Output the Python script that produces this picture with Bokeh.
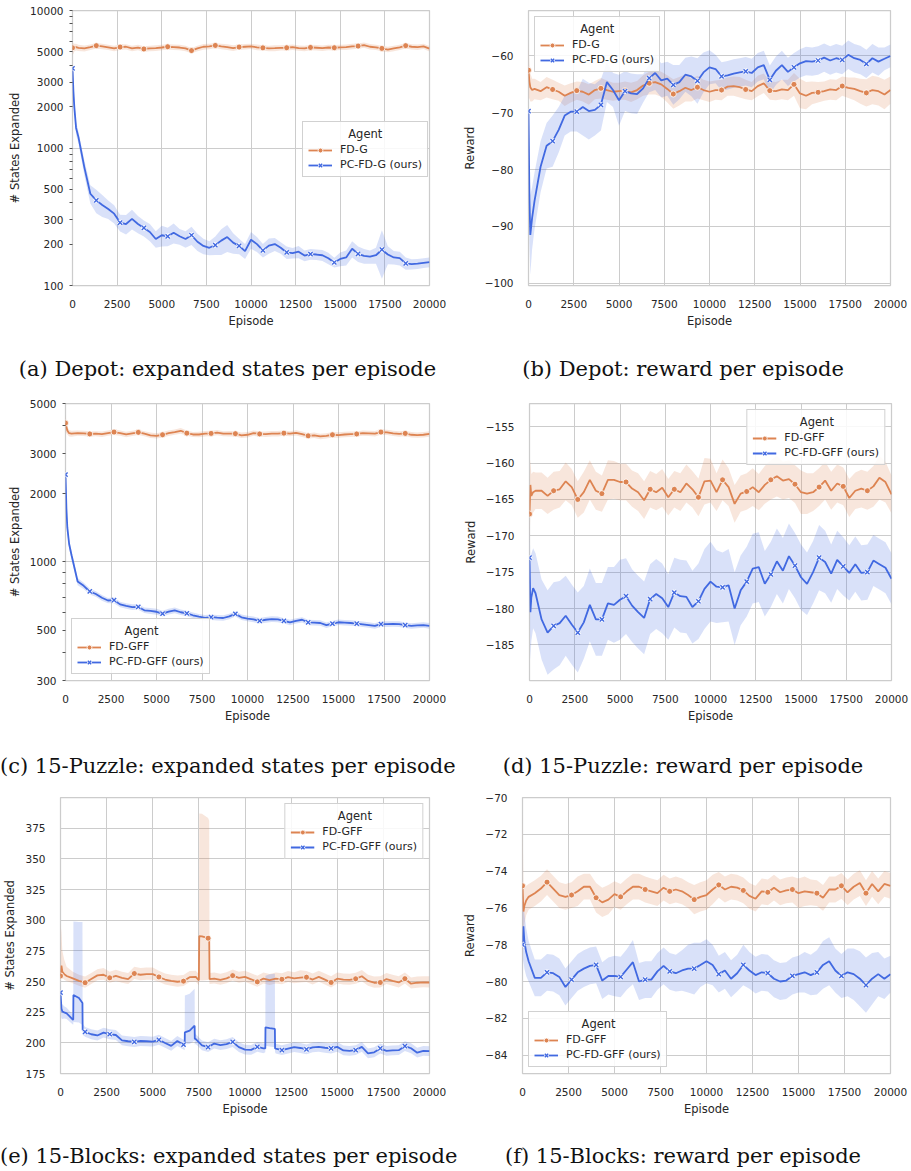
import numpy as np
from bokeh.plotting import figure
from bokeh.models import Range1d, FixedTicker, CustomJSTickFormatter, Legend, LegendItem, Div
from bokeh.layouts import column, row
from bokeh.embed import file_html
from bokeh.resources import INLINE

ORANGE = "#dd8452"
BLUE = "#4169e1"
TXT = "#262626"
GRID = "#cccccc"

EPISODE = [0, 50, 100, 200,
           333, 667, 1000, 1333, 1667, 2000, 2333, 2667, 3000, 3333,
           3667, 4000, 4333, 4667, 5000, 5333, 5667, 6000, 6333, 6667,
           7000, 7333, 7667, 8000, 8333, 8667, 9000, 9333, 9667, 10000,
           10333, 10667, 11000, 11333, 11667, 12000, 12333, 12667, 13000, 13333,
           13667, 14000, 14333, 14667, 15000, 15333, 15667, 16000, 16333, 16667,
           17000, 17333, 17667, 18000, 18333, 18667, 19000, 19333, 19667, 20000]
X_TICKS = [0, 2500, 5000, 7500, 10000, 12500, 15000, 17500, 20000]

# ---------------- (a) Depot: expanded states ----------------
A_FD = [5350, 5300, 5380, 5420,
        5350, 5300, 5420, 5550, 5480, 5400, 5300, 5420, 5450, 5300,
        5380, 5250, 5300, 5330, 5380, 5450, 5420, 5380, 5300, 5110,
        5300, 5450, 5480, 5570, 5480, 5420, 5330, 5420, 5450, 5480,
        5400, 5350, 5300, 5320, 5350, 5360, 5420, 5330, 5300, 5390,
        5360, 5320, 5380, 5360, 5400, 5420, 5480, 5510, 5600, 5450,
        5400, 5300, 5200, 5300, 5400, 5550, 5450, 5420, 5480, 5280]
A_FD_CI = [600, 450, 350, 300,
           280, 260, 250, 260, 250, 240, 250, 260, 240, 250,
           250, 240, 250, 260, 250, 240, 250, 250, 240, 230,
           250, 260, 250, 240, 250, 260, 250, 240, 250, 240,
           250, 240, 250, 260, 240, 240, 250, 240, 250, 240,
           250, 240, 250, 250, 240, 250, 260, 250, 240, 250,
           240, 250, 240, 250, 240, 250, 240, 250, 240, 250]
A_PC = [3800, 2600, 2000, 1400,
        1200, 720, 465, 416, 385, 360, 333, 287, 280, 305,
        280, 262, 245, 218, 232, 228, 242, 228, 218, 232,
        208, 194, 188, 197, 212, 225, 205, 194, 178, 215,
        200, 180, 195, 200, 188, 174, 172, 176, 165, 169,
        168, 166, 158, 147, 156, 160, 185, 170, 164, 162,
        166, 182, 168, 160, 158, 145, 143, 144, 146, 148]
A_PC_CI = [400, 300, 200, 150,
           120, 90, 70, 80, 70, 55, 50, 40, 45, 50,
           40, 35, 35, 30, 40, 35, 40, 30, 30, 35,
           30, 25, 22, 30, 45, 50, 35, 25, 22, 30,
           25, 20, 25, 22, 18, 18, 15, 18, 15, 15,
           15, 15, 15, 12, 18, 20, 25, 22, 20, 18,
           22, 70, 25, 18, 18, 15, 12, 12, 12, 12]

# ---------------- (b) Depot: reward ----------------
B_FD = [-62.5, -64.5, -65.5, -66.0,
        -65.8, -66.2, -65.5, -65.9, -66.3, -67.0, -66.5, -66.1, -66.3, -66.8,
        -66.0, -65.7, -66.0, -66.3, -66.2, -66.1, -66.4, -66.0, -65.2, -64.8,
        -64.6, -65.0, -65.8, -66.7, -66.2, -65.6, -66.0, -65.5, -66.0, -66.3,
        -66.0, -66.0, -65.4, -65.3, -65.5, -65.9, -66.2, -65.3, -64.8, -66.1,
        -66.2, -65.9, -66.0, -65.0, -66.6, -67.0, -66.5, -66.4, -66.2, -65.9,
        -66.0, -65.3, -65.6, -65.8, -66.2, -66.5, -66.0, -66.2, -66.8, -66.0]
B_FD_CI = [5.0, 3.0, 2.5, 2.0,
           1.8, 1.6, 1.8, 1.7, 1.6, 1.8, 1.7, 1.6, 1.7, 1.8,
           1.6, 1.8, 1.7, 1.6, 1.5, 1.6, 1.7, 1.6, 1.8, 2.0,
           2.2, 2.2, 2.4, 2.6, 2.5, 2.4, 2.0, 2.0, 1.8, 1.8,
           1.7, 1.8, 1.6, 1.7, 1.8, 1.7, 1.6, 1.8, 1.7, 1.6,
           1.6, 1.7, 1.8, 2.0, 2.6, 2.4, 2.0, 1.8, 1.7, 1.8,
           1.8, 1.7, 1.8, 2.0, 2.2, 2.4, 2.5, 2.5, 2.6, 2.4]
B_PC = [-69.7, -85.0, -91.5, -88.5,
        -85.5, -79.5, -75.8, -75.0, -73.0, -70.5, -69.8, -69.8, -69.0, -69.7,
        -69.5, -68.6, -64.6, -66.0, -67.8, -66.2, -66.6, -66.7, -65.7, -63.9,
        -63.0, -64.3, -64.0, -65.1, -64.6, -63.3, -63.6, -64.4, -62.9, -62.0,
        -62.3, -63.6, -63.4, -63.1, -62.9, -62.7, -63.0, -62.0, -61.6, -64.2,
        -62.6, -61.6, -62.8, -62.0, -61.3, -60.9, -61.0, -60.8, -60.3, -60.8,
        -60.4, -60.7, -59.8, -60.4, -60.7, -61.4, -60.4, -61.0, -60.5, -60.0]
B_PC_CI = [2.0, 8.0, 7.0, 5.5,
           5.0, 4.5, 4.0, 4.5, 4.0, 3.5, 3.5, 3.5, 5.0, 5.0,
           4.5, 4.5, 3.5, 3.0, 4.5, 3.5, 3.5, 3.5, 2.5, 2.5,
           3.0, 3.0, 3.0, 3.5, 3.0, 3.0, 3.5, 4.0, 3.5, 3.0,
           2.5, 2.5, 2.5, 2.5, 2.5, 2.5, 2.5, 2.5, 2.5, 2.5,
           2.5, 2.5, 2.5, 2.5, 2.5, 2.5, 2.5, 2.5, 2.5, 2.5,
           2.5, 2.5, 2.5, 2.5, 2.5, 2.5, 2.5, 2.5, 2.0, 2.0]

# ---------------- (c) 15-Puzzle: expanded states ----------------
C_FD = [4100, 3950, 3800, 3700,
        3680, 3700, 3690, 3670, 3680, 3660, 3700, 3740, 3700, 3650,
        3690, 3730, 3680, 3620, 3600, 3640, 3700, 3740, 3790, 3700,
        3650, 3650, 3680, 3690, 3720, 3680, 3680, 3680, 3620, 3640,
        3700, 3670, 3660, 3680, 3680, 3700, 3680, 3710, 3660, 3600,
        3620, 3580, 3600, 3640, 3630, 3650, 3660, 3670, 3700, 3690,
        3680, 3740, 3730, 3690, 3670, 3690, 3640, 3630, 3640, 3670]
C_FD_CI = [350, 250, 150, 120,
           110, 100, 100, 100, 95, 100, 100, 105, 100, 100,
           100, 100, 95, 100, 100, 100, 105, 100, 110, 100,
           95, 100, 100, 100, 100, 95, 100, 100, 100, 100,
           100, 95, 100, 100, 100, 100, 95, 100, 100, 100,
           100, 100, 95, 100, 100, 100, 100, 95, 100, 100,
           100, 100, 95, 100, 100, 100, 100, 95, 100, 100]
C_PC = [2430, 1720, 1420, 1200,
        1070, 820, 785, 741, 722, 695, 676, 678, 650, 640,
        632, 633, 612, 608, 603, 592, 604, 612, 600, 593,
        582, 574, 567, 571, 568, 566, 575, 590, 570, 563,
        558, 550, 556, 560, 558, 550, 541, 550, 556, 541,
        540, 538, 526, 535, 542, 540, 538, 535, 531, 527,
        522, 532, 532, 533, 532, 526, 522, 525, 527, 523]
C_PC_CI = [250, 120, 80, 60,
           45, 30, 25, 22, 20, 20, 18, 20, 18, 18,
           18, 18, 17, 18, 18, 17, 18, 18, 17, 17,
           16, 16, 16, 16, 16, 16, 16, 16, 16, 16,
           16, 16, 16, 16, 16, 15, 15, 15, 15, 15,
           15, 15, 15, 15, 15, 15, 15, 15, 15, 15,
           15, 15, 15, 15, 15, 15, 15, 15, 15, 15]

# ---------------- (d) 15-Puzzle: reward ----------------
D_FD = [-167.0, -163.0, -164.5, -164.0,
        -163.8, -163.8, -164.5, -163.8, -163.6, -162.5, -163.3, -165.0, -164.0, -162.3,
        -163.8, -164.2, -162.3, -162.3, -162.6, -162.6, -163.5, -164.0, -165.1, -163.6,
        -164.0, -163.4, -164.7, -163.6, -164.0, -162.8, -163.6, -164.7, -162.5, -162.4,
        -164.0, -162.3, -163.3, -165.6, -164.2, -163.9, -163.3, -164.0, -163.0, -162.3,
        -161.8, -162.4, -162.2, -162.9, -164.0, -164.2, -164.0, -163.3, -162.4, -163.8,
        -162.8, -163.2, -164.8, -163.8, -163.5, -163.8, -163.2, -162.0, -162.6, -164.3]
D_FD_CI = [4.5, 3.5, 3.0, 2.8,
           2.5, 2.5, 2.5, 2.6, 2.5, 2.6, 2.5, 2.5, 2.8, 2.7,
           2.6, 2.5, 2.7, 2.6, 2.5, 2.5, 2.5, 2.6, 2.6, 2.5,
           2.5, 2.6, 2.5, 2.5, 2.6, 2.6, 2.5, 2.6, 3.2, 3.0,
           2.6, 2.8, 2.6, 2.6, 2.5, 2.5, 2.6, 2.5, 2.6, 2.7,
           2.8, 2.6, 2.6, 2.6, 3.0, 2.8, 2.6, 2.6, 2.6, 2.6,
           2.6, 2.6, 2.6, 2.5, 2.6, 2.6, 2.8, 3.0, 2.8, 2.6]
D_PC = [-173.0, -180.5, -178.5, -177.2,
        -177.9, -181.5, -183.3, -182.4, -182.0, -181.0, -182.2, -183.3, -181.9, -179.5,
        -181.5, -181.5, -179.3, -179.5, -178.8, -178.3, -179.6, -180.5, -181.3, -178.7,
        -178.0, -178.6, -179.8, -177.8, -178.3, -178.4, -179.8, -179.0, -177.3, -176.3,
        -177.0, -177.1, -176.8, -180.0, -177.5, -176.3, -174.5, -174.3, -176.6, -175.3,
        -173.5, -174.8, -172.8, -174.1, -175.7, -176.6, -175.0, -173.0, -173.6, -175.2,
        -173.3, -174.2, -175.1, -173.9, -175.1, -175.0, -173.4, -173.9, -174.4, -175.9]
D_PC_CI = [6.0, 6.5, 6.0, 5.5,
           5.5, 5.5, 5.8, 6.0, 5.8, 5.5, 5.5, 5.5, 5.0, 5.0,
           5.0, 5.0, 5.0, 5.2, 5.5, 5.2, 5.0, 5.0, 5.0, 4.8,
           4.8, 4.8, 4.5, 4.8, 5.0, 5.0, 5.0, 5.2, 5.5, 5.5,
           5.0, 4.8, 5.0, 5.0, 4.8, 4.8, 4.8, 4.8, 4.5, 4.5,
           4.5, 4.5, 4.5, 4.5, 4.5, 4.3, 4.3, 4.5, 4.3, 4.0,
           4.0, 4.0, 3.8, 3.8, 3.8, 3.8, 3.5, 3.5, 3.5, 3.5]

# ---------------- (e) 15-Blocks: expanded states ----------------
E_FD = [254.5, 263.0, 258.0, 256.0,
        254.5, 252.5, 250.5, 249.0, 252.0, 255.0, 255.5, 253.0, 254.5, 253.0,
        252.0, 256.5, 255.5, 256.0, 256.0, 253.7, 251.6, 250.6, 249.8, 250.3,
        253.5, 253.7, 286.8, 285.3, 252.4, 251.3, 252.6, 254.8, 253.0, 253.7,
        251.8, 249.7, 252.4, 251.2, 252.3, 251.8, 253.5, 252.5, 253.2, 253.5,
        251.6, 253.8, 251.5, 249.2, 252.3, 251.5, 251.3, 252.2, 254.3, 250.5,
        249.0, 249.2, 252.0, 250.5, 249.2, 252.3, 248.2, 249.0, 249.3, 249.2]
E_FD_CI = [6.0, 5.0, 5.0, 4.5,
           4.0, 4.0, 4.0, 4.0, 4.0, 4.0, 4.0, 4.0, 4.0, 4.0,
           4.0, 4.5, 4.5, 4.5, 4.5, 4.0, 4.0, 4.0, 4.0, 4.0,
           4.0, 4.0, 36.0, 34.0, 4.0, 4.0, 4.0, 4.0, 4.0, 4.0,
           4.0, 4.0, 4.0, 4.0, 4.0, 4.0, 4.0, 4.0, 4.0, 4.0,
           4.0, 4.0, 4.0, 4.0, 4.0, 4.0, 4.0, 4.0, 4.0, 4.0,
           4.0, 4.0, 4.0, 4.0, 4.0, 4.0, 4.0, 4.0, 4.0, 4.0]
E_FD_UP = [43.0, 27.0, 17.0, 12.0,
           7.5, 5.5, 5.0, 5.0, 5.0, 5.0, 5.5, 5.0, 5.0, 5.0,
           5.0, 5.5, 5.5, 5.5, 5.5, 5.0, 5.0, 5.0, 5.0, 5.0,
           5.0, 5.0, 100.0, 98.0, 5.0, 5.0, 5.0, 5.0, 5.0, 5.0,
           5.0, 5.0, 5.0, 5.0, 5.0, 5.0, 5.0, 5.0, 6.0, 5.0,
           5.0, 5.0, 5.0, 5.0, 5.0, 5.0, 5.0, 5.0, 5.0, 5.0,
           5.0, 5.0, 5.0, 5.0, 5.0, 5.0, 5.0, 5.0, 5.0, 5.0]
E_FD_JUMP_X = [7500, 7520, 8060, 8080]
E_FD_JUMP_Y = [251.0, 287.0, 285.0, 252.0]
E_FD_JUMP_CI = [4.0, 36.0, 34.0, 4.0]
E_FD_JUMP_UP = [5.0, 100.0, 96.0, 5.0]

E_PC = [241.0, 228.0, 225.5, 224.8,
        224.0, 219.0, 236.5, 209.0, 207.0, 206.0, 208.3, 207.0, 206.4, 202.0,
        201.3, 200.7, 201.5, 201.3, 201.0, 202.5, 199.9, 197.5, 201.5, 198.5,
        210.0, 203.0, 198.0, 196.5, 199.4, 198.2, 199.0, 200.7, 196.5, 194.5,
        194.3, 196.7, 195.5, 212.0, 195.3, 194.1, 195.3, 196.5, 195.8, 194.6,
        196.3, 196.7, 196.0, 195.4, 196.7, 193.8, 193.5, 194.1, 196.7, 191.4,
        192.3, 195.4, 193.5, 193.8, 194.0, 197.3, 195.6, 192.0, 193.5, 193.3]
E_PC_CI = [10.0, 8.0, 6.0, 5.0,
           4.5, 4.0, 20.0, 4.0, 4.0, 4.0, 4.0, 4.0, 4.0, 4.0,
           4.0, 4.0, 4.0, 4.0, 4.0, 4.0, 4.0, 4.0, 4.0, 4.0,
           11.0, 4.0, 4.0, 4.0, 4.0, 4.0, 4.0, 4.0, 4.0, 4.0,
           4.0, 4.0, 4.0, 15.0, 4.0, 4.0, 4.0, 4.0, 4.0, 4.0,
           4.0, 4.0, 4.0, 4.0, 4.0, 4.0, 4.0, 4.0, 4.0, 4.0,
           4.0, 4.0, 4.0, 4.0, 4.0, 4.0, 4.0, 4.0, 4.0, 4.0]
E_PC_UP = [10.0, 8.0, 6.0, 5.0,
           4.5, 4.0, 62.0, 4.0, 4.0, 4.0, 4.0, 4.0, 4.0, 4.0,
           4.0, 4.0, 4.0, 4.0, 4.0, 4.0, 4.0, 4.0, 4.0, 4.0,
           30.0, 4.0, 4.0, 4.0, 4.0, 4.0, 4.0, 4.0, 4.0, 4.0,
           4.0, 4.0, 4.0, 44.0, 4.0, 4.0, 4.0, 4.0, 4.0, 4.0,
           4.0, 4.0, 4.0, 4.0, 4.0, 4.0, 4.0, 4.0, 4.0, 4.0,
           4.0, 4.0, 4.0, 4.0, 4.0, 4.0, 4.0, 4.0, 4.0, 4.0]
E_PC_JUMP_X = [690, 700, 1190, 1200, 6730, 6740, 7270, 7280, 11100, 11110, 11620, 11630]
E_PC_JUMP_Y = [219.0, 239.0, 232.5, 210.5, 198.0, 208.6, 214.0, 203.4, 195.4, 212.6, 211.3, 195.4]
E_PC_JUMP_CI = [4.0, 22.0, 18.0, 4.0, 4.0, 10.0, 12.0, 5.0, 3.0, 15.0, 15.0, 3.0]
E_PC_JUMP_UP = [5.0, 60.0, 66.0, 5.0, 5.0, 30.0, 30.0, 5.0, 4.0, 42.0, 45.0, 5.0]

# ---------------- (f) 15-Blocks: reward ----------------
F_FD = [-74.8, -76.2, -75.9, -75.6,
        -75.4, -75.2, -74.95, -74.6, -74.95, -75.3, -75.4, -75.3, -75.1, -74.85,
        -74.85, -75.45, -75.7, -75.55, -75.25, -75.4, -75.1, -74.85, -74.85, -75.0,
        -75.1, -75.2, -74.9, -75.1, -75.0, -75.1, -75.3, -75.55, -75.4, -75.3,
        -75.0, -74.75, -75.0, -74.85, -74.9, -75.05, -75.35, -75.5, -75.1, -75.15,
        -74.9, -75.15, -75.05, -75.0, -75.2, -75.1, -75.15, -75.2, -75.45, -75.0,
        -75.0, -74.8, -75.15, -74.85, -74.65, -75.2, -74.7, -75.1, -74.7, -74.8]
F_FD_CI = [4.2, 1.5, 1.0, 0.8,
           0.7, 0.7, 0.7, 0.7, 0.7, 0.7, 0.7, 0.7, 0.8, 0.7,
           0.7, 0.8, 0.8, 0.8, 0.7, 0.7, 0.7, 0.7, 0.7, 0.7,
           0.7, 0.7, 0.7, 0.7, 0.7, 0.7, 0.7, 0.8, 0.8, 0.8,
           0.8, 0.7, 0.7, 0.7, 0.7, 0.7, 0.7, 0.7, 0.7, 0.7,
           0.7, 0.7, 0.7, 0.7, 0.8, 0.8, 0.7, 0.7, 0.7, 0.7,
           0.7, 0.7, 0.7, 0.7, 0.7, 0.7, 0.7, 0.7, 0.7, 0.7]
F_PC = [-78.0, -77.0, -77.8, -78.4,
        -78.9, -79.8, -79.8, -79.5, -79.55, -79.75, -80.3, -79.9, -79.5, -79.3,
        -79.15, -79.1, -79.95, -79.7, -79.7, -79.75, -79.35, -78.95, -80.0, -79.9,
        -79.9, -79.45, -79.15, -79.45, -79.55, -79.4, -79.3, -79.3, -79.1, -78.9,
        -79.1, -79.6, -79.4, -79.85, -79.55, -79.1, -79.4, -79.65, -79.5, -79.55,
        -79.85, -80.0, -79.95, -79.7, -79.6, -79.5, -79.65, -79.5, -79.1, -78.9,
        -79.4, -79.7, -79.5, -79.6, -79.85, -80.2, -79.85, -79.6, -79.85, -79.6]
F_PC_CI = [2.0, 1.8, 1.5, 1.3,
           1.1, 1.0, 1.0, 1.0, 1.0, 1.0, 1.0, 1.0, 1.0, 1.0,
           1.0, 1.0, 1.0, 1.0, 1.1, 1.1, 1.1, 1.2, 1.0, 1.0,
           1.0, 1.0, 1.0, 1.0, 1.0, 1.1, 1.3, 1.4, 1.2, 1.2,
           1.1, 1.0, 1.0, 1.0, 1.0, 1.1, 1.0, 1.0, 1.0, 1.0,
           1.0, 1.0, 1.0, 1.0, 1.0, 1.1, 1.1, 1.2, 1.3, 1.3,
           1.2, 1.2, 1.3, 1.4, 1.5, 1.5, 1.4, 1.2, 1.1, 1.0]

CAPTIONS = ["(a) Depot: expanded states per episode",
            "(b) Depot: reward per episode",
            "(c) 15-Puzzle: expanded states per episode",
            "(d) 15-Puzzle: reward per episode",
            "(e) 15-Blocks: expanded states per episode",
            "(f) 15-Blocks: reward per episode"]


def series(mean, ci, up=None, jx=(), jy=(), jci=(), jup=()):
    if len(mean) != len(EPISODE) or len(ci) != len(EPISODE):
        raise ValueError("length mismatch %d %d" % (len(mean), len(ci)))
    up = ci if up is None else up
    jup = jci if len(jup) == 0 else jup
    x = np.array(list(EPISODE) + list(jx), dtype=float)
    m = np.array(list(mean) + list(jy), dtype=float)
    lo = m - np.array(list(ci) + list(jci), dtype=float)
    hi = m + np.array(list(up) + list(jup), dtype=float)
    order = np.argsort(x, kind="stable")
    return x[order], m[order], lo[order], hi[order]


JS_FMT = "return (tick < 0 ? '\u2212' : '') + Math.abs(tick).toString();"


def panel(width, height, borders, y_range, log, yticks, yminor, ygrid, ylabel,
          fd, pc, labels, legend_loc, title_pad):
    left, right, top, bottom = borders
    p = figure(width=width, height=height, output_backend="svg", toolbar_location=None,
               x_range=Range1d(0, 20000), y_range=Range1d(*y_range),
               y_axis_type="log" if log else "linear",
               min_border_left=left, min_border_right=right,
               min_border_top=top, min_border_bottom=bottom,
               background_fill_color="white", border_fill_color="white")
    p.outline_line_color = GRID
    p.outline_line_width = 1.25

    p.xaxis.ticker = FixedTicker(ticks=X_TICKS)
    p.yaxis.ticker = FixedTicker(ticks=yticks, minor_ticks=yminor)
    p.xgrid.ticker = FixedTicker(ticks=X_TICKS)
    p.ygrid.ticker = FixedTicker(ticks=ygrid)
    p.grid.grid_line_color = GRID
    p.grid.grid_line_width = 1

    for ax in (p.xaxis[0], p.yaxis[0]):
        ax.formatter = CustomJSTickFormatter(code=JS_FMT)
        ax.axis_line_color = None
        ax.major_label_text_font = "DejaVu Sans"
        ax.major_label_text_font_size = "10.5px"
        ax.major_label_text_color = TXT
        ax.axis_label_text_font = "DejaVu Sans"
        ax.axis_label_text_font_size = "11.5px"
        ax.axis_label_text_font_style = "normal"
        ax.axis_label_text_color = TXT
    p.xaxis.axis_label = "Episode"
    p.yaxis.axis_label = ylabel
    p.xaxis.major_tick_line_color = None
    p.xaxis.minor_tick_line_color = None
    p.xaxis.major_label_standoff = 8
    p.xaxis.axis_label_standoff = 3
    if log:
        p.yaxis.major_tick_line_color = TXT
        p.yaxis.minor_tick_line_color = TXT
        p.yaxis.major_tick_line_width = 0.8
        p.yaxis.minor_tick_line_width = 0.8
        p.yaxis.major_tick_out = 3
        p.yaxis.major_tick_in = 0
        p.yaxis.minor_tick_out = 3
        p.yaxis.minor_tick_in = 0
        p.yaxis.major_label_standoff = 6
    else:
        p.yaxis.major_tick_line_color = None
        p.yaxis.minor_tick_line_color = None
        p.yaxis.major_label_standoff = 9
    p.yaxis.axis_label_standoff = 5

    items = []
    for (x, m, lo, hi), color in ((fd, ORANGE), (pc, BLUE)):
        p.varea(x=x, y1=lo, y2=hi, fill_color=color, fill_alpha=0.2)
    for (x, m, lo, hi), color, label, kind in ((fd, ORANGE, labels[0], "o"), (pc, BLUE, labels[1], "x")):
        ln = p.line(x, m, line_color=color, line_width=1.8)
        step = 4000.0 / 3.0
        mk = (np.abs(x - np.round(x / step) * step) < 1.5) & (x < 19999)
        if kind == "o":
            s1 = p.scatter(x[mk], m[mk], marker="circle", size=6, fill_color=color,
                           line_color="white", line_width=0.8)
            rends = [ln, s1]
        else:
            s0 = p.scatter(x[mk], m[mk], marker="x", size=6, line_color="white", line_width=3)
            s1 = p.scatter(x[mk], m[mk], marker="x", size=6, line_color=color, line_width=1.4)
            rends = [ln, s0, s1]
        items.append(LegendItem(label=label, renderers=rends))

    # title centred over the entries, as in the reference legend
    leg = Legend(items=items, title="\u00a0" * title_pad + "Agent", location=legend_loc)
    leg.title_text_font = "DejaVu Sans"
    leg.title_text_font_size = "11.5px"
    leg.title_text_font_style = "normal"
    leg.title_text_color = TXT
    leg.title_standoff = 2
    leg.label_text_font = "DejaVu Sans"
    leg.label_text_font_size = "11px"
    leg.label_text_color = TXT
    leg.glyph_width = 24
    leg.glyph_height = 12
    leg.label_height = 12
    leg.label_standoff = 8
    leg.spacing = 2
    leg.padding = 5
    leg.margin = 6
    leg.border_line_color = GRID
    leg.border_line_alpha = 0.9
    leg.background_fill_alpha = 0.85
    p.add_layout(leg)
    return p


def caption(text, width, height, pad):
    html = ('<div style="font-family: \'DejaVu Serif\', serif; font-size: 21px; color: #111; '
            'text-align: center; white-space: nowrap; line-height: 24px; '
            'width: %dpx; padding-top: %dpx;">%s</div>' % (width, pad, text))
    return Div(text=html, width=width, height=height, margin=0)


LOG_A_TICKS = [100, 200, 300, 500, 1000, 2000, 3000, 5000, 10000]
LOG_A_MINOR = [400, 600, 700, 800, 900, 4000, 6000, 7000, 8000, 9000]
LOG_C_TICKS = [300, 500, 1000, 2000, 3000, 5000]
LOG_C_MINOR = [400, 600, 700, 800, 900, 4000]

pa = panel(455, 330, (72, 26, 10, 42), (100, 10000), True, LOG_A_TICKS, LOG_A_MINOR,
           [100, 1000, 10000], "# States Expanded",
           series(A_FD, A_FD_CI), series(A_PC, A_PC_CI),
           ("FD-G", "PC-FD-G (ours)"), (230, 108), 11)
pb = panel(456, 330, (73, 21, 5, 43), (-100.4, -52.0), False, [-100, -90, -80, -70, -60], [],
           [-100, -90, -80, -70, -60], "Reward",
           series(B_FD, B_FD_CI), series(B_PC, B_PC_CI),
           ("FD-G", "PC-FD-G (ours)"), "top_left", 11)
pc_ = panel(455, 333, (65, 26, 11, 43), (300, 5000), True, LOG_C_TICKS, LOG_C_MINOR,
            [1000], "# States Expanded",
            series(C_FD, C_FD_CI), series(C_PC, C_PC_CI),
            ("FD-GFF", "PC-FD-GFF (ours)"), "bottom_left", 13)
pd_ = panel(456, 333, (74, 20, 7, 43), (-189.9, -151.8), False,
            [-185, -180, -175, -170, -165, -160, -155], [],
            [-185, -180, -175, -170, -165, -160, -155], "Reward",
            series(D_FD, D_FD_CI), series(D_PC, D_PC_CI),
            ("FD-GFF", "PC-FD-GFF (ours)"), "top_right", 13)
pe = panel(455, 333, (58, 26, 7, 43), (175, 400), False,
           [175, 200, 225, 250, 275, 300, 325, 350, 375], [],
           [175, 200, 225, 250, 275, 300, 325, 350, 375], "# States Expanded",
           series(E_FD, E_FD_CI, E_FD_UP, E_FD_JUMP_X, E_FD_JUMP_Y, E_FD_JUMP_CI, E_FD_JUMP_UP),
           series(E_PC, E_PC_CI, E_PC_UP, E_PC_JUMP_X, E_PC_JUMP_Y, E_PC_JUMP_CI, E_PC_JUMP_UP),
           ("FD-GFF", "PC-FD-GFF (ours)"), "top_right", 13)
pf = panel(456, 333, (67, 21, 12, 43), (-85, -70), False,
           [-84, -82, -80, -78, -76, -74, -72, -70], [],
           [-84, -82, -80, -78, -76, -74, -72, -70], "Reward",
           series(F_FD, F_FD_CI), series(F_PC, F_PC_CI),
           ("FD-GFF", "PC-FD-GFF (ours)"), "bottom_left", 13)

layout = column(
    row(pa, pb),
    row(caption(CAPTIONS[0], 455, 62, 27), caption(CAPTIONS[1], 456, 62, 27)),
    row(pc_, pd_),
    row(caption(CAPTIONS[2], 455, 60, 29), caption(CAPTIONS[3], 456, 60, 29)),
    row(pe, pf),
    row(caption(CAPTIONS[4], 455, 53, 26), caption(CAPTIONS[5], 456, 53, 26)),
)

open("out.html", "w").write(file_html(layout, INLINE))
